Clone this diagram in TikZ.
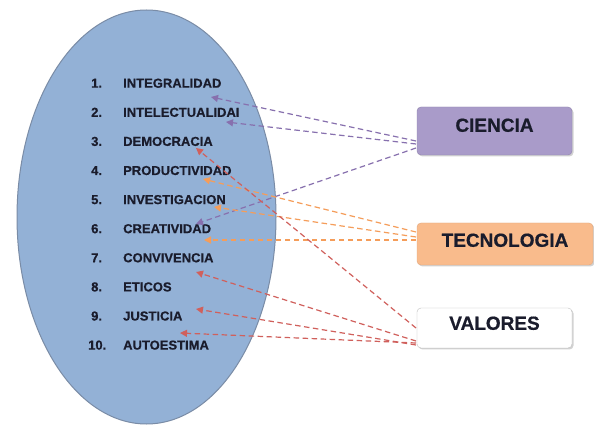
\documentclass[tikz,border=0pt]{standalone}
\usepackage{fontspec}
\setmainfont{Liberation Sans}
\newfontfamily\heavy{Liberation Sans}[BoldFeatures={FakeBold=0.6}]
\usetikzlibrary{arrows.meta,shadows,shapes.geometric}
\definecolor{ellfill}{HTML}{93B1D6}
\definecolor{elldraw}{HTML}{7A8CA6}
\definecolor{purp}{HTML}{8770AE}
\definecolor{purpfill}{HTML}{A99BC9}
\definecolor{orng}{HTML}{F59D5A}
\definecolor{orngfill}{HTML}{F9BB8C}
\definecolor{redl}{HTML}{D0605C}
\definecolor{txt}{HTML}{1A1C2C}
\begin{document}
\begin{tikzpicture}[x=1pt,y=-1pt,
  item/.style={anchor=base west, font=\fontsize{13}{15}\selectfont\heavy\bfseries, text=txt, inner sep=0pt},
  boxst/.style={rounded corners=4pt, font=\fontsize{19}{22}\selectfont\heavy\bfseries, text=txt,
    text height=13.6pt, inner sep=0pt,
    drop shadow={shadow xshift=1.5pt, shadow yshift=-1.5pt, opacity=0.35}},
  link/.style={dash pattern=on 5.5pt off 3.5pt, line width=1.2pt, -{Triangle[length=7pt,width=7pt]}}
]
\useasboundingbox (0,0) rectangle (594,427);
\fill[white] (0,0) rectangle (594,427);

% ellipse
\node[ellipse, draw=elldraw, line width=1pt, fill=ellfill, minimum width=259pt, minimum height=414pt, inner sep=0pt] (ell) at (146.5,217) {};

% items
\foreach \i/\t in {1/INTEGRALIDAD,2/INTELECTUALIDAI,3/DEMOCRACIA,4/PRODUCTIVIDAD,5/INVESTIGACION,6/CREATIVIDAD,7/CONVIVENCIA,8/ETICOS,9/JUSTICIA,10/AUTOESTIMA}{
  \pgfmathsetmacro{\yy}{87.7+29.1*(\i-1)}
  \ifnum\i<10
    \node[item] (n\i) at (91,\yy) {\i.};
  \else
    \node[item] (n\i) at (88,\yy) {\i.};
  \fi
  \node[item] (it\i) at (123,\yy) {\t};
}

% boxes
\node[boxst, fill=purpfill, draw=purpfill!85!black, minimum width=155pt, minimum height=48pt, text depth=12pt] (cien) at (494.5,131) {CIENCIA};
\node[boxst, fill=orngfill, draw=orngfill!90!black, minimum width=176pt, minimum height=42pt, text depth=8pt] (tec) at (505,244) {TECNOLOGIA};
\node[boxst, fill=white, draw=gray!50, minimum width=155pt, minimum height=40pt, text depth=10pt] (val) at (494.5,328) {VALORES};

% connector endpoints
\coordinate (c1s) at (416,141);
\coordinate (c2s) at (416,144);
\coordinate (c3s) at (416,148);
\coordinate (c1t) at (211,97);
\coordinate (c2t) at (226,122);
\coordinate (c3t) at (196,224);
\coordinate (o1s) at (416,232);
\coordinate (o2s) at (416,237);
\coordinate (o3s) at (416,240);
\coordinate (o1t) at (203,179);
\coordinate (o2t) at (214,207);
\coordinate (o3t) at (204,240);
\coordinate (r1s) at (416,328);
\coordinate (r2s) at (416,341);
\coordinate (r3s) at (416,345);
\coordinate (r4s) at (416,343);
\coordinate (r1t) at (196,148);
\coordinate (r2t) at (196,272);
\coordinate (r3t) at (196,309);
\coordinate (r4t) at (180,333);

\draw[link, purp] (c1s) -- (c1t);
\draw[link, purp] (c2s) -- (c2t);
\draw[link, purp] (c3s) -- (c3t);
\draw[link, orng] (o1s) -- (o1t);
\draw[link, orng] (o2s) -- (o2t);
\draw[link, orng] (o3s) -- (o3t);
\draw[link, redl] (r1s) -- (r1t);
\draw[link, redl] (r2s) -- (r2t);
\draw[link, redl] (r3s) -- (r3t);
\draw[link, redl] (r4s) -- (r4t);
\end{tikzpicture}
\end{document}
